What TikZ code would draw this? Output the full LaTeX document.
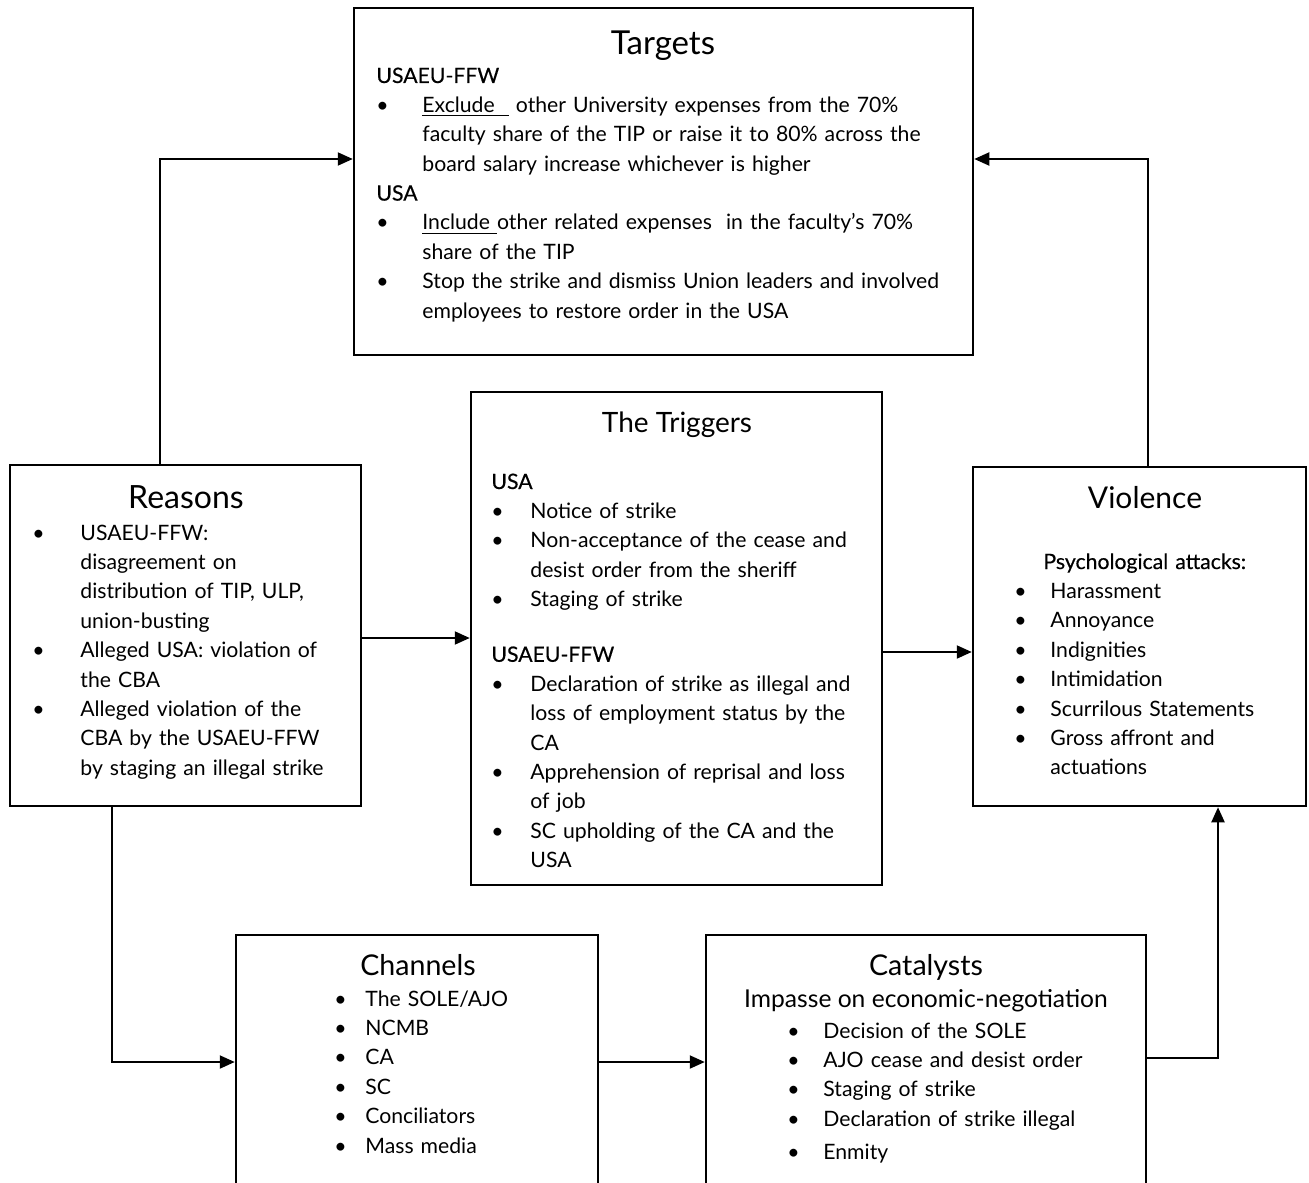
\documentclass[tikz,border=0pt]{standalone}
\usepackage{fontspec}
\setmainfont{Lato}
\newfontfamily\medfont[FakeBold=0.4]{Lato}
\usetikzlibrary{arrows.meta, positioning}
\newlength\bind
\newcommand\itm[1]{\hangindent=\bind\hangafter=1\noindent\makebox[\bind][l]{\textbullet}#1\par}
\newcommand\hd[1]{\noindent{\medfont #1}\par}

\begin{document}
\begin{tikzpicture}[x=0.5pt, y=-0.5pt,
  box/.style={draw, line width=1.25pt, inner sep=0pt},
  ttl/.style={anchor=base, inner sep=0pt, font=\fontsize{14}{16}\selectfont},
  txt/.style={anchor=base west, inner sep=0pt, text width=320pt, align=left,
    font=\fontsize{10.6}{14.7}\selectfont},
  e/.style={-{Triangle[length=7.5pt, width=6.5pt]}, line width=1pt}]
  \useasboundingbox (0,0) rectangle (1309,1182);

  % boxes
  \node[box, minimum width=309.5pt, minimum height=173.5pt] (targets) at (663.5,181.5) {};
  \node[box, minimum width=205.5pt, minimum height=246.5pt] (triggers) at (676.5,638.5) {};
  \node[box, minimum width=175.5pt, minimum height=170.5pt] (reasons) at (185.5,635.5) {};
  \node[box, minimum width=166.5pt, minimum height=169.5pt] (violence) at (1139.5,636.5) {};
  \node[box, minimum width=181pt, minimum height=132.5pt] (channels) at (417,1067.5) {};
  \node[box, minimum width=220pt, minimum height=132.5pt] (catalysts) at (926,1067.5) {};

  % titles
  \node[ttl, font=\fontsize{16.5}{18}\selectfont] (targetsT) at (663,55) {Targets};
  \node[ttl] (triggersT) at (677,432) {The Triggers};
  \node[ttl, font=\fontsize{16}{18}\selectfont] (reasonsT) at (186,508) {Reasons};
  \node[ttl, font=\fontsize{15}{17}\selectfont] (violenceT) at (1145,508) {Violence};
  \node[ttl, font=\fontsize{14.3}{16}\selectfont] (channelsT) at (418,975) {Channels};
  \node[ttl, font=\fontsize{14.3}{16}\selectfont] (catalystsT) at (926,975) {Catalysts};

  % contents
  \node[txt] (targetsC) at (376,83) {\setlength\bind{23pt}%
    \hd{USAEU-FFW}
    \itm{\underline{Exclude\ \ } other University expenses from the 70\%\newline
      faculty share of the TIP or raise it to 80\% across the\newline
      board salary increase whichever is higher}
    \hd{USA}
    \itm{\underline{Include\ }other related expenses\ \ in the faculty’s 70\%\newline
      share of the TIP}
    \itm{Stop the strike and dismiss Union leaders and involved\newline
      employees to restore order in the USA}};
  \node[txt] (triggersC) at (491,489) {\setlength\bind{19.5pt}%
    \hd{USA}
    \itm{Notice of strike}
    \itm{Non-acceptance of the cease and\newline desist order from the sheriff}
    \itm{Staging of strike}
    \vspace{12.9pt}
    \hd{USAEU-FFW}
    \itm{Declaration of strike as illegal and\newline loss of employment status by the\newline CA}
    \itm{Apprehension of reprisal and loss\newline of job}
    \itm{SC upholding of the CA and the\newline USA}};
  \node[txt] (reasonsC) at (32,540) {\setlength\bind{24pt}%
    \itm{USAEU-FFW:\newline disagreement on\newline distribution of TIP, ULP,\newline union-busting}
    \itm{Alleged USA: violation of\newline the CBA}
    \itm{Alleged violation of the\newline CBA by the USAEU-FFW\newline by staging an illegal strike}};
  \node[txt] (violenceC) at (1014,569) {\setlength\bind{18pt}%
    \hd{\hspace{14.5pt}Psychological attacks:}
    \itm{Harassment}
    \itm{Annoyance}
    \itm{Indignities}
    \itm{Intimidation}
    \itm{Scurrilous Statements}
    \itm{Gross affront and\newline actuations}};
  \node[txt] (channelsC) at (334,1006) {\setlength\bind{15.5pt}%
    \itm{The SOLE/AJO}
    \itm{NCMB}
    \itm{CA}
    \itm{SC}
    \itm{Conciliators}
    \itm{Mass media}};
  \node[anchor=base, inner sep=0pt, font=\fontsize{12.3}{14}\selectfont] (impasse) at (926,1007)
    {Impasse on economic-negotiation};
  \node[txt] (catalystsC) at (787,1038) {\setlength\bind{18pt}%
    \itm{Decision of the SOLE}
    \itm{AJO cease and desist order}
    \itm{Staging of strike}
    \itm{Declaration of strike illegal}
    \vspace{2pt}
    \itm{Enmity}};

  % connectors
  \draw[e] ([xshift=-12.75pt]reasons.north) |- ([yshift=11.25pt]targets.west);
  \draw[e] ([xshift=4.25pt]violence.north) |- ([yshift=11.25pt]targets.east);
  \draw[e] ([yshift=-1.25pt]reasons.east) -- ([yshift=-1.25pt]reasons.east -| triggers.west);
  \draw[e] ([yshift=-6.75pt]triggers.east) -- ([yshift=-6.75pt]triggers.east -| violence.west);
  \draw[e] ([xshift=-36.75pt]reasons.south) |- ([yshift=2.75pt]channels.west);
  \draw[e] ([yshift=2.75pt]channels.east) -- ([yshift=2.75pt]channels.east -| catalysts.west);
  \draw[e] ([yshift=4.75pt]catalysts.east) -| ([xshift=39.25pt]violence.south);
\end{tikzpicture}
\end{document}
